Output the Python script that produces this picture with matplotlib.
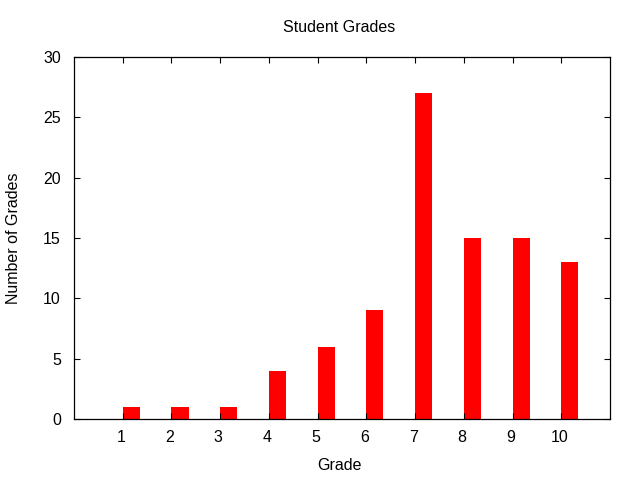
import numpy as np
import matplotlib
matplotlib.use("Agg")
import matplotlib.pyplot as plt
import matplotlib.transforms as mtransforms

# Grade histogram data
grades = [1, 2, 3, 4, 5, 6, 7, 8, 9, 10]
counts = [1, 1, 1, 4, 6, 9, 27, 15, 15, 13]
y_ticks = [0, 5, 10, 15, 20, 25, 30]

plt.rcParams['font.family'] = ['Liberation Sans', 'DejaVu Sans']
plt.rcParams['font.size'] = 11.5

fig = plt.figure(figsize=(6.4, 4.8), dpi=100)
ax = fig.add_axes([74/640, 61/480, 536/640, 362/480])

ax.bar(grades, counts, width=0.35, align='edge', color='#ff0000', linewidth=0)

ax.set_xlim(0, 11)
ax.set_ylim(0, 30)
ax.set_xticks(grades)
ax.set_yticks(y_ticks)
ax.tick_params(direction='in', length=4.5, width=0.8, top=True, right=True,
               labelsize=11.5, colors='black')
ax.tick_params(axis='x', pad=8)
ax.tick_params(axis='y', pad=9.5)
for s in ax.spines.values():
    s.set_linewidth(0.9)
    s.set_zorder(3)

# gnuplot puts the x tick labels a touch left of the tick
shift = mtransforms.ScaledTranslation(-2/100, 0, fig.dpi_scale_trans)
for lbl in ax.get_xticklabels():
    lbl.set_transform(lbl.get_transform() + shift)

ax.set_xlabel("Grade", va='center')
ax.xaxis.set_label_coords((339 - 74) / 536, (419 - 465) / 362)
ax.set_ylabel("Number of Grades", va='center')
ax.yaxis.set_label_coords((14 - 74) / 536, 0.5)
ax.text((339 - 74) / 536, (419 - 27) / 362, "Student Grades", transform=ax.transAxes,
        ha='center', va='center', fontsize=11.5)

plt.savefig("out.png", dpi=100)
plt.close('all')
